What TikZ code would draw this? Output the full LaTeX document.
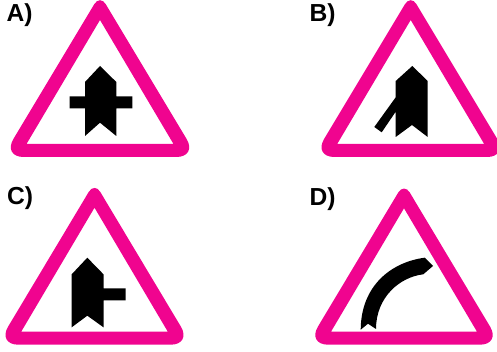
\documentclass[tikz,border=0pt]{standalone}
\usepackage{fontspec}
\setmainfont{Liberation Sans}
\definecolor{signpink}{HTML}{F0048F}
\tikzset{
  px/.style={x=0.01cm,y=-0.01cm},
  optlabel/.style={anchor=base west,inner sep=0pt,font=\fontsize{7pt}{8pt}\selectfont\bfseries},
  glyph/.style={fill=black,draw=none},
}
% apex x, apex y, half width, bottom y of the inner triangle
\newcommand{\signframe}[4]{%
  \fill[signpink,even odd rule]
    [rounded corners=11.2*0.01cm] (#1,#2-25.4)
    [rounded corners=21*0.01cm] -- (#1+#3+23.9,#4+13) -- (#1-#3-23.9,#4+13)
    [rounded corners=11.2*0.01cm] -- cycle
    [sharp corners] (#1,#2) -- (#1+#3,#4) -- (#1-#3,#4) -- cycle;
}
\begin{document}
\begin{tikzpicture}[px]
\useasboundingbox (0,0) rectangle (497,352);
\node[optlabel] (la) at (6,22) {A)};
\node[optlabel] (lb) at (309,22) {B)};
\node[optlabel] (lc) at (6.5,205) {C)};
\node[optlabel] (ld) at (309,206) {D)};
\signframe{100}{20}{73.5}{144}
\signframe{410.7}{20}{73.5}{144}
\signframe{94.5}{207.7}{73.3}{331.7}
\signframe{404}{208.3}{73}{331.7}
% A
\fill[glyph] (100,66) -- (116.3,82) -- (116.3,96.3) -- (132.3,96.3) -- (132.3,108.3) -- (116.3,108.3) -- (116.3,136) -- (100,122.7) -- (85,136) -- (85,108.3) -- (69.7,108.3) -- (69.7,96.3) -- (85,96.3) -- (85,82) -- cycle;
% B
\fill[glyph] (412.3,66) -- (427.7,81) -- (427.7,137) -- (412,125) -- (395.7,137) -- (395.7,111.7) -- (381.7,132.3) -- (374.3,127) -- (395.7,97.3) -- (395.7,81) -- cycle;
% C
\fill[glyph] (87.3,257.7) -- (103.5,274.3) -- (103.5,288.3) -- (125.7,288.3) -- (125.7,300.3) -- (103.5,300.3) -- (103.5,327.3) -- (87.3,315.7) -- (71.7,327.3) -- (71.7,274.3) -- cycle;
% D
\fill[glyph] (360.7,329.7) .. controls (361,285) and (392,262) .. (424.7,257.7) -- (433,266) -- (423.3,274.3) .. controls (400,277) and (376,297) .. (376,329) -- (368,323.7) -- cycle;
\end{tikzpicture}
\end{document}
